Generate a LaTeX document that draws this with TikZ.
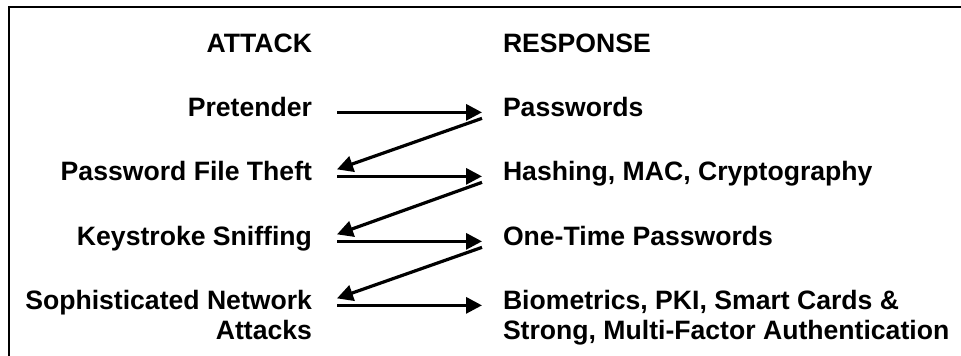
\documentclass[tikz,border=0pt]{standalone}
\usepackage{fontspec}
\setmainfont{Liberation Sans}
\usetikzlibrary{arrows.meta}
\begin{document}
\begin{tikzpicture}[x=1pt,y=-1pt,
  lbl/.style={inner sep=0pt,outer sep=0pt,font=\fontsize{26.6}{30}\selectfont\bfseries},
  att/.style={lbl,anchor=base east,align=right},
  rsp/.style={lbl,anchor=base west,align=left},
  arr/.style={line width=3.2pt,-{Triangle[length=16pt,width=16pt]}},
  frame/.style={line width=2pt}]
\useasboundingbox (0,0) rectangle (961,356);
\draw[frame] (9,360) -- (9,7) -- (965,7);
% headers
\node[att] (atk) at (312,52) {ATTACK};
\node[rsp] (rsp) at (503,52) {RESPONSE};
% attacks (multi-line nodes are placed by the baseline of their last line)
\node[att] (a1) at (312,116) {Pretender};
\node[att] (a2) at (312,180) {Password File Theft};
\node[att] (a3) at (312,245) {Keystroke Sniffing};
\node[att] (a4) at (312,339) {Sophisticated Network\\Attacks};
% responses
\node[rsp] (r1) at (503,116) {Passwords};
\node[rsp] (r2) at (503,180) {Hashing, MAC, Cryptography};
\node[rsp] (r3) at (503,245) {One-Time Passwords};
\node[rsp] (r4) at (503,339) {Biometrics, PKI, Smart Cards \&\\Strong, Multi-Factor Authentication};
% arrow end points on the first line of each row
\foreach \i in {1,2,3}{
  \coordinate (as\i) at ([xshift=25pt,yshift=1pt]a\i.mid east);
  \coordinate (re\i) at ([xshift=-21pt,yshift=1pt]r\i.mid west);
}
\coordinate (as4) at ([xshift=25pt,yshift=31pt]a4.mid east);
\coordinate (re4) at ([xshift=-21pt,yshift=31pt]r4.mid west);
% horizontal arrows
\foreach \i in {1,2,3,4}{
  \draw[arr] (as\i) -- (re\i);
}
% diagonal arrows
\foreach \i/\j in {1/2,2/3,3/4}{
  \draw[arr] ([yshift=-6pt]re\i) -- ([yshift=7pt]as\j);
}
\end{tikzpicture}
\end{document}
